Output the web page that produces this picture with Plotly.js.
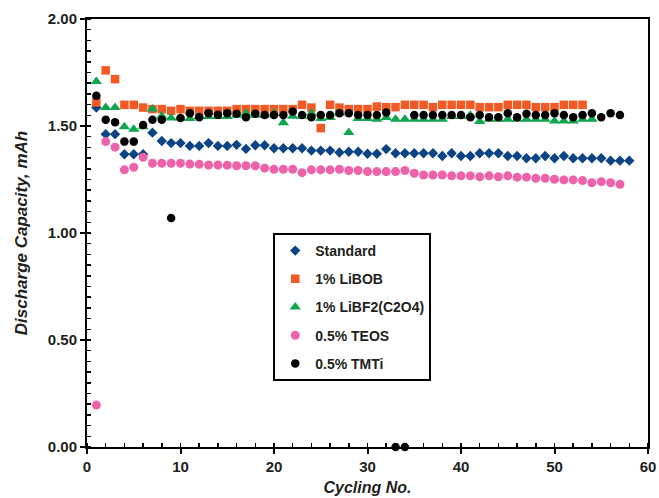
<!DOCTYPE html>
<html>
<head>
<meta charset="utf-8">
<script src="https://cdn.plot.ly/plotly-3.0.1.min.js"></script>
<style>
html,body{margin:0;padding:0;background:#fff;}
#chart{width:659px;height:498px;}
</style>
</head>
<body>
<div id="chart"></div>
<script>
var seriesNames = ["Standard", "1% LiBOB", "1% LiBF2(C2O4)", "0.5% TEOS", "0.5% TMTi"];

var standard = [1.586, 1.462, 1.462, 1.368, 1.368, 1.368, 1.469, 1.430, 1.420, 1.420,
  1.407, 1.407, 1.420, 1.407, 1.407, 1.412, 1.393, 1.410, 1.410, 1.396,
  1.396, 1.396, 1.396, 1.385, 1.385, 1.385, 1.376, 1.380, 1.380, 1.370,
  1.370, 1.392, 1.373, 1.373, 1.373, 1.373, 1.373, 1.360, 1.373, 1.360,
  1.360, 1.373, 1.373, 1.373, 1.360, 1.360, 1.349, 1.349, 1.360, 1.349,
  1.360, 1.349, 1.349, 1.349, 1.349, 1.338, 1.338, 1.338];

var libob = [1.610, 1.760, 1.719, 1.599, 1.599, 1.586, 1.579, 1.579, 1.571, 1.579,
  1.571, 1.571, 1.571, 1.571, 1.571, 1.579, 1.579, 1.579, 1.579, 1.579,
  1.579, 1.579, 1.599, 1.586, 1.490, 1.599, 1.586, 1.579, 1.579, 1.579,
  1.591, 1.588, 1.588, 1.599, 1.599, 1.599, 1.588, 1.599, 1.599, 1.599,
  1.599, 1.588, 1.588, 1.588, 1.599, 1.599, 1.599, 1.588, 1.588, 1.588,
  1.599, 1.599, 1.599];

var libf2 = [1.708, 1.586, 1.586, 1.497, 1.485, 1.497, 1.579, 1.547, 1.537, 1.537,
  1.535, 1.544, 1.544, 1.544, 1.544, 1.550, 1.560, 1.550, 1.550, 1.560,
  1.515, 1.545, 1.545, 1.560, 1.535, 1.540, 1.560, 1.470, 1.535, 1.535,
  1.532, 1.540, 1.532, 1.532, 1.532, 1.532, 1.532, 1.532, 1.544, 1.544,
  1.550, 1.521, 1.532, 1.532, 1.532, 1.532, 1.532, 1.532, 1.532, 1.523,
  1.523, 1.523, 1.532, 1.532];

var teos = [0.196, 1.427, 1.401, 1.295, 1.307, 1.354, 1.326, 1.326, 1.326, 1.326,
  1.322, 1.321, 1.318, 1.318, 1.317, 1.314, 1.314, 1.314, 1.303, 1.298,
  1.298, 1.298, 1.282, 1.295, 1.295, 1.295, 1.298, 1.292, 1.292, 1.287,
  1.287, 1.287, 1.287, 1.292, 1.279, 1.271, 1.271, 1.271, 1.267, 1.267,
  1.267, 1.263, 1.267, 1.263, 1.267, 1.261, 1.261, 1.256, 1.256, 1.251,
  1.248, 1.248, 1.245, 1.235, 1.240, 1.235, 1.228];

var tmti = [1.641, 1.529, 1.518, 1.427, 1.427, 1.505, 1.529, 1.529, 1.070, 1.537,
  1.560, 1.541, 1.560, 1.552, 1.560, 1.557, 1.541, 1.557, 1.551, 1.551,
  1.551, 1.568, 1.551, 1.541, 1.551, 1.551, 1.560, 1.560, 1.551, 1.551,
  1.551, 1.563, 0.000, 0.000, 1.551, 1.551, 1.551, 1.551, 1.551, 1.551,
  1.541, 1.551, 1.541, 1.541, 1.560, 1.541, 1.557, 1.551, 1.551, 1.560,
  1.551, 1.541, 1.551, 1.560, 1.541, 1.560, 1.551];

var yTickVals = [0, 0.5, 1.0, 1.5, 2.0];
var xTickVals = [0, 10, 20, 30, 40, 50, 60];

function cycles(arr) { return arr.map(function (_, i) { return i + 1; }); }

var allSeries = [standard, libob, libf2, teos, tmti];
var symbols = ["diamond", "square", "triangle-up", "circle", "circle"];
var colors = ["#0b4384", "#f15a24", "#12a550", "#ee62aa", "#000000"];
var sizes = [8, 8.5, 10, 9, 8.5];

var traces = allSeries.map(function (ys, k) {
  return {
    type: "scatter",
    mode: "markers",
    name: seriesNames[k],
    legendgroup: "g" + k,
    x: cycles(ys),
    y: ys,
    cliponaxis: false,
    marker: { symbol: symbols[k], color: colors[k], size: sizes[k], line: { width: 0 } }
  };
});

var fontFam = "Arial, 'Liberation Sans', sans-serif";

var layout = {
  width: 659,
  height: 498,
  margin: { l: 87, r: 11, t: 19, b: 51, pad: 0 },
  paper_bgcolor: "#ffffff",
  plot_bgcolor: "#ffffff",
  showlegend: true,
  hovermode: false,
  font: { family: fontFam, color: "#231f20" },
  legend: {
    x: 0.332, y: 0.5, xanchor: "left", yanchor: "top",
    bordercolor: "#000000", borderwidth: 2, bgcolor: "#ffffff",
    font: { family: fontFam, size: 14, weight: "bold", color: "#231f20" },
    traceorder: "grouped", tracegroupgap: 7,
    itemsizing: "trace"
  },
  xaxis: {
    range: [0, 60],
    tickvals: xTickVals,
    ticktext: xTickVals.map(String),
    showgrid: false, zeroline: false,
    showline: true, linecolor: "#000000", linewidth: 2, mirror: true,
    ticks: "outside", ticklen: 5, tickwidth: 2, tickcolor: "#000000",
    tickfont: { family: fontFam, size: 15, weight: "bold", color: "#231f20" },
    minor: { dtick: 2, ticks: "inside", ticklen: 4, tickwidth: 1.5, tickcolor: "#000000", showgrid: false },
    title: { text: "Cycling No.", font: { family: fontFam, size: 16, weight: "bold", style: "italic", color: "#231f20" }, standoff: 8 }
  },
  yaxis: {
    range: [0, 2],
    tickvals: yTickVals,
    ticktext: yTickVals.map(function (v) { return v.toFixed(2); }),
    showgrid: false, zeroline: false,
    showline: true, linecolor: "#000000", linewidth: 2, mirror: true,
    ticks: "outside", ticklen: 5, tickwidth: 2, tickcolor: "#000000",
    tickfont: { family: fontFam, size: 15, weight: "bold", color: "#231f20" },
    minor: { dtick: 0.05, ticks: "inside", ticklen: 4, tickwidth: 1.5, tickcolor: "#000000", showgrid: false },
    title: { text: "Discharge Capacity, mAh", font: { family: fontFam, size: 17, weight: "bold", style: "italic", color: "#231f20" }, standoff: 16 }
  }
};

Plotly.newPlot("chart", traces, layout, { staticPlot: true, displayModeBar: false });
</script>
</body>
</html>
